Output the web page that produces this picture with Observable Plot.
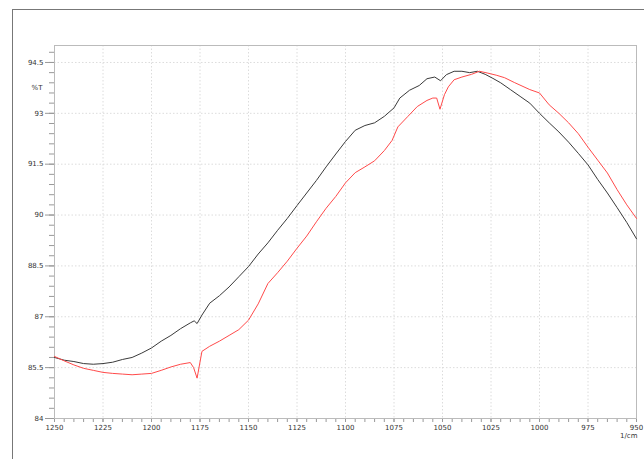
<!DOCTYPE html>
<html>
<head>
<meta charset="utf-8">
<script src="https://cdn.jsdelivr.net/npm/d3@7"></script>
<script src="https://cdn.jsdelivr.net/npm/@observablehq/plot@0.6"></script>
<style>
  html, body { margin: 0; padding: 0; background: #fff; }
  #wrap { position: relative; width: 644px; height: 459px; overflow: hidden; }
  #border { position: absolute; left: 12px; top: 9px; right: -2px; bottom: -2px;
            border-left: 1px solid #777; border-top: 1px solid #777; pointer-events: none; }
  #chart { position: absolute; left: 0; top: 0; }
</style>
</head>
<body>
<div id="wrap"><div id="chart"></div><div id="border"></div></div>
<script>
// Sample 1 (black)
const blackWn = [1250,1245,1240,1235,1230,1225,1220,1215,1210,1205,1200,1195,1190,1185,1180,1178,1176.5,1174,1170,1165,1160,1155,1150,1145,1140,1135,1130,1125,1120,1115,1110,1105,1100,1095,1090,1085,1080,1075,1072,1067,1062,1058,1054,1051,1048,1044,1040,1036,1032,1028,1024,1020,1015,1010,1005,1000,995,990,985,980,975,970,965,960,955,950];
const blackT  = [85.80,85.72,85.68,85.62,85.60,85.62,85.66,85.74,85.80,85.93,86.08,86.28,86.45,86.65,86.82,86.88,86.80,87.05,87.40,87.62,87.88,88.18,88.48,88.85,89.18,89.55,89.90,90.28,90.65,91.02,91.42,91.80,92.17,92.50,92.64,92.72,92.91,93.16,93.45,93.68,93.82,94.02,94.07,93.96,94.14,94.24,94.24,94.20,94.24,94.15,94.03,93.90,93.70,93.50,93.30,93.00,92.72,92.45,92.15,91.82,91.48,91.05,90.65,90.22,89.78,89.30];
// Sample 2 (red)
const redWn = [1250,1245,1240,1235,1230,1225,1220,1215,1210,1205,1200,1195,1190,1185,1180,1178.3,1176.5,1174,1170,1165,1160,1155,1150,1145,1140,1135,1130,1125,1120,1115,1110,1105,1100,1095,1090,1085,1080,1076,1073,1068,1063,1058,1055,1053,1051.3,1049,1047,1044,1040,1035,1031,1027,1022,1018,1013,1005,1000,995,990,985,980,975,970,965,960,955,950];
const redT  = [85.83,85.70,85.58,85.48,85.42,85.36,85.33,85.31,85.29,85.31,85.33,85.42,85.52,85.60,85.65,85.50,85.19,85.98,86.13,86.28,86.45,86.62,86.90,87.38,87.98,88.30,88.64,89.02,89.38,89.80,90.20,90.55,90.95,91.25,91.42,91.60,91.90,92.20,92.60,92.90,93.20,93.38,93.45,93.45,93.12,93.55,93.78,93.99,94.07,94.15,94.24,94.19,94.12,94.05,93.91,93.70,93.60,93.25,93.00,92.72,92.40,92.00,91.62,91.24,90.75,90.30,89.90];

const xMajor = [1250,1225,1200,1175,1150,1125,1100,1075,1050,1025,1000,975,950];
const yMajor = [84,85.5,87,88.5,90,91.5,93,94.5];
const xMinor = d3.range(950, 1251, 5);
const yMinor = d3.range(0, 37).map(i => +(84 + i * 0.3).toFixed(2));

const black = blackWn.map((w, i) => ({w, t: blackT[i]}));
const red = redWn.map((w, i) => ({w, t: redT[i]}));

const font = "'DejaVu Sans', sans-serif";
const chart = Plot.plot({
  width: 644, height: 459,
  marginLeft: 54, marginRight: 8, marginTop: 45, marginBottom: 41,
  style: {fontFamily: font, fontSize: "7px", background: "#fff", color: "#333"},
  x: {domain: [1250, 950]},
  y: {domain: [84, 95]},
  marks: [
    Plot.gridX(xMajor, {stroke: "#dcdcdc", strokeOpacity: 1, strokeDasharray: "1.5,2"}),
    Plot.gridY(yMajor, {stroke: "#dcdcdc", strokeOpacity: 1, strokeDasharray: "1.5,2"}),
    Plot.axisX(xMinor, {tickSize: 4, text: null, stroke: "#999", label: null}),
    Plot.axisX(xMajor, {tickSize: 4, tickPadding: 3, stroke: "#999", label: null, fill: "#333", fontSize: 7, tickFormat: d => String(d)}),
    Plot.axisY(yMinor, {tickSize: 5, text: null, stroke: "#999", label: null}),
    Plot.axisY(yMajor, {tickSize: 9, tickPadding: 2, stroke: "#999", label: null, fill: "#333", fontSize: 7, tickFormat: d => String(d)}),
    Plot.text(["%T"], {frameAnchor: "left", y: [93.75], dx: -12, textAnchor: "end", fontSize: 7, fill: "#333"}),
    Plot.text(["1/cm"], {frameAnchor: "bottom-right", dy: 19, dx: 1, textAnchor: "end", fontSize: 7, fill: "#333"}),
    Plot.frame({stroke: "#bbb"}),
    Plot.line(black, {x: "w", y: "t", stroke: "#3a3a3a", strokeWidth: 1}),
    Plot.line(red, {x: "w", y: "t", stroke: "#ff4a4a", strokeWidth: 1})
  ]
});
document.getElementById("chart").appendChild(chart);
</script>
</body>
</html>
